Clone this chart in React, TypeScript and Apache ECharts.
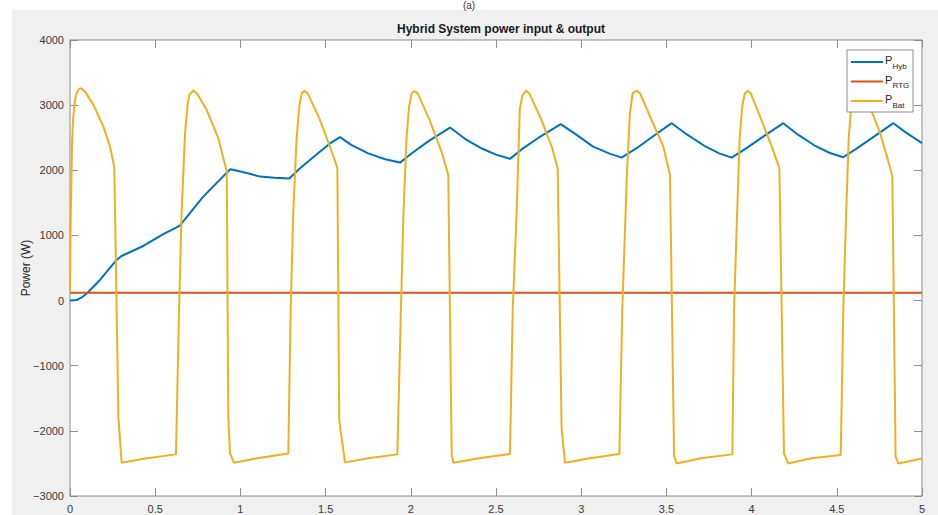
import React, { useEffect, useRef } from "react";
import * as echarts from "echarts";

const titleText = "Hybrid System power input & output";
const yAxisName = "Power (W)";
const legendNames = ["Hyb", "RTG", "Bat"];
const seriesColors = ["#0072BD", "#D95319", "#EDB120"];

const xMin = 0;
const xMax = 5;
const xStep = 0.5;
const yMin = -3000;
const yMax = 4000;
const yStep = 1000;

const rtgPoints: [number, number][] = [
  [0, 120],
  [5, 120],
];

const hybPoints: [number, number][] = [
  [0, 0], [0.04, 10], [0.07, 50], [0.1, 112], [0.176, 316], [0.24, 520], [0.274, 624],
  [0.3, 680], [0.43, 838], [0.55, 1025], [0.645, 1151], [0.7, 1330], [0.782, 1596],
  [0.87, 1830], [0.94, 2017], [0.97, 2000], [1.05, 1950], [1.115, 1903], [1.2, 1885],
  [1.287, 1873], [1.35, 2030], [1.45, 2250], [1.53, 2420], [1.585, 2508], [1.65, 2390],
  [1.75, 2260], [1.85, 2170], [1.937, 2118], [2.0, 2250], [2.1, 2440], [2.23, 2656],
  [2.32, 2480], [2.42, 2330], [2.5, 2240], [2.582, 2175], [2.65, 2320], [2.75, 2500],
  [2.88, 2708], [2.973, 2544], [3.07, 2364], [3.17, 2252], [3.237, 2195], [3.325, 2339],
  [3.42, 2518], [3.531, 2723], [3.62, 2550], [3.72, 2380], [3.81, 2260], [3.883, 2195],
  [3.97, 2340], [4.07, 2520], [4.186, 2723], [4.27, 2550], [4.37, 2380], [4.46, 2265],
  [4.538, 2200], [4.62, 2340], [4.72, 2520], [4.832, 2723], [4.9, 2590], [5.0, 2416],
];

const batPoints: [number, number][] = [
  // cycle 1
  [0, 120], [0.004, 1200], [0.012, 2400], [0.016, 2697], [0.025, 3000], [0.035, 3158],
  [0.05, 3240], [0.063, 3261], [0.09, 3200], [0.137, 3005], [0.196, 2671], [0.235, 2364],
  [0.26, 2047], [0.284, -1783], [0.303, -2490], [0.45, -2420], [0.622, -2361],
  // cycle 2
  [0.64, -143], [0.655, 1340], [0.675, 2570], [0.69, 3000], [0.7, 3158], [0.724, 3225],
  [0.745, 3180], [0.802, 2928], [0.87, 2493], [0.92, 1980], [0.929, -1800], [0.939, -2346],
  [0.962, -2490], [1.1, -2420], [1.281, -2346],
  // cycle 3
  [1.295, -143], [1.31, 1341], [1.33, 2500], [1.346, 2979], [1.36, 3180], [1.375, 3220],
  [1.395, 3180], [1.467, 2774], [1.536, 2288], [1.569, 2032], [1.58, -1834], [1.614, -2484],
  [1.75, -2420], [1.921, -2361],
  // cycle 4
  [1.942, -143], [1.957, 1340], [1.975, 2500], [1.99, 2979], [2.005, 3180], [2.019, 3220],
  [2.04, 3180], [2.11, 2774], [2.18, 2288], [2.22, 1930], [2.24, -2372], [2.25, -2490],
  [2.4, -2420], [2.582, -2357],
  // cycle 5
  [2.598, -143], [2.621, 1341], [2.64, 2954], [2.655, 3150], [2.676, 3220], [2.695, 3180],
  [2.758, 2826], [2.827, 2364], [2.862, 2032], [2.885, -1962], [2.905, -2490],
  [3.05, -2420], [3.224, -2357],
  // cycle 6
  [3.241, -143], [3.267, 1853], [3.285, 2850], [3.302, 3184], [3.325, 3220], [3.345, 3180],
  [3.404, 2826], [3.482, 2364], [3.521, 1929], [3.545, -2372], [3.56, -2500],
  [3.7, -2420], [3.887, -2361],
  // cycle 7
  [3.897, -143], [3.915, 1340], [3.93, 2500], [3.945, 2979], [3.96, 3180], [3.977, 3220],
  [3.995, 3180], [4.049, 2826], [4.118, 2364], [4.163, 2032], [4.19, -2346], [4.215, -2500],
  [4.35, -2420], [4.523, -2372],
  // cycle 8
  [4.538, -143], [4.555, 1340], [4.57, 2500], [4.585, 2979], [4.6, 3180], [4.62, 3220],
  [4.645, 3170], [4.705, 2903], [4.754, 2570], [4.8, 2160], [4.826, 1904], [4.845, -2398],
  [4.861, -2500], [5.0, -2423],
];

const FONT = "'Liberation Sans', Arial, Helvetica, sans-serif";
const AXIS_COLOR = "#8c8c8c";
const LABEL_COLOR = "#3a3a3a";

export default function App() {
  const ref = useRef<HTMLDivElement>(null);

  useEffect(() => {
    document.body.style.margin = "0";
    const chart = echarts.init(ref.current!, null, { renderer: "svg" });

    const fmtY = (v: number) => String(v).replace("-", "\u2212");

    const tick = { show: true, inside: true, length: 8, lineStyle: { color: AXIS_COLOR, width: 1 } };
    const baseX = {
      type: "value" as const,
      min: xMin,
      max: xMax,
      interval: xStep,
      splitLine: { show: false },
      axisLine: { show: false, onZero: false },
      axisTick: tick,
    };
    const baseY = {
      type: "value" as const,
      min: yMin,
      max: yMax,
      interval: yStep,
      splitLine: { show: false },
      axisLine: { show: false, onZero: false },
      axisTick: tick,
    };

    const legendTop = 50;
    const rowYs = [62, 81.5, 101];
    const legendGraphics: any[] = [
      {
        type: "rect",
        z: 100,
        shape: { x: 847, y: legendTop, width: 66, height: 62 },
        style: { fill: "#ffffff", stroke: "#8c8c8c", lineWidth: 1 },
      },
    ];
    legendNames.forEach((name, i) => {
      legendGraphics.push({
        type: "line",
        z: 101,
        shape: { x1: 851, y1: rowYs[i], x2: 883, y2: rowYs[i] },
        style: { stroke: seriesColors[i], lineWidth: 2 },
      });
      legendGraphics.push({
        type: "text",
        z: 101,
        x: 885,
        y: rowYs[i] - 2,
        style: {
          text: "P",
          fontSize: 11,
          fontFamily: FONT,
          fill: "#262626",
          align: "left",
          verticalAlign: "middle",
        },
      });
      legendGraphics.push({
        type: "text",
        z: 101,
        x: 892.5,
        y: rowYs[i] + 4,
        style: {
          text: name,
          fontSize: 8,
          fontFamily: FONT,
          fill: "#262626",
          align: "left",
          verticalAlign: "middle",
        },
      });
    });

    chart.setOption({
      animation: false,
      title: {
        text: titleText,
        left: 496,
        top: 18,
        textAlign: "center",
        textStyle: { fontSize: 12, fontWeight: "bold", color: "#1a1a1a", fontFamily: FONT },
      },
      grid: {
        left: 70,
        right: 16,
        top: 40,
        bottom: 19,
        show: true,
        backgroundColor: "#ffffff",
        borderColor: AXIS_COLOR,
        borderWidth: 1,
      },
      xAxis: [
        {
          ...baseX,
          position: "bottom",
          axisLabel: { color: LABEL_COLOR, fontSize: 11, fontFamily: FONT, margin: 7 },
        },
        {
          ...baseX,
          position: "top",
          axisLabel: { show: false },
        },
      ],
      yAxis: [
        {
          ...baseY,
          position: "left",
          name: yAxisName,
          nameLocation: "middle",
          nameGap: 38,
          nameMoveOverlap: false,
          nameTextStyle: { color: "#262626", fontSize: 12, fontFamily: FONT },
          axisLabel: { color: LABEL_COLOR, fontSize: 11, fontFamily: FONT, margin: 6, formatter: fmtY },
        },
        {
          ...baseY,
          position: "right",
          axisLabel: { show: false },
        },
      ],
      graphic: [
        {
          type: "text",
          x: 469,
          y: 0,
          style: {
            text: "(a)",
            fontSize: 10,
            fontFamily: FONT,
            fill: "#333",
            align: "center",
            verticalAlign: "top",
          },
        },
        ...legendGraphics,
      ],
      series: [
        {
          name: "P_Hyb",
          type: "line",
          data: hybPoints,
          showSymbol: false,
          lineStyle: { color: seriesColors[0], width: 2 },
          itemStyle: { color: seriesColors[0] },
          xAxisIndex: 0,
          yAxisIndex: 0,
        },
        {
          name: "P_RTG",
          type: "line",
          data: rtgPoints,
          showSymbol: false,
          lineStyle: { color: seriesColors[1], width: 2 },
          itemStyle: { color: seriesColors[1] },
          xAxisIndex: 0,
          yAxisIndex: 0,
        },
        {
          name: "P_Bat",
          type: "line",
          data: batPoints,
          showSymbol: false,
          lineStyle: { color: seriesColors[2], width: 2 },
          itemStyle: { color: seriesColors[2] },
          xAxisIndex: 0,
          yAxisIndex: 0,
        },
      ],
    });

    return () => chart.dispose();
  }, []);

  return (
    <div style={{ position: "fixed", left: 0, top: 0, width: 938, height: 515, background: "#ffffff" }}>
      <div style={{ position: "absolute", left: 12, top: 10, right: 0, bottom: 0, background: "#f0f0f0" }} />
      <div ref={ref} style={{ position: "absolute", left: 0, top: 0, width: 938, height: 515 }} />
    </div>
  );
}
